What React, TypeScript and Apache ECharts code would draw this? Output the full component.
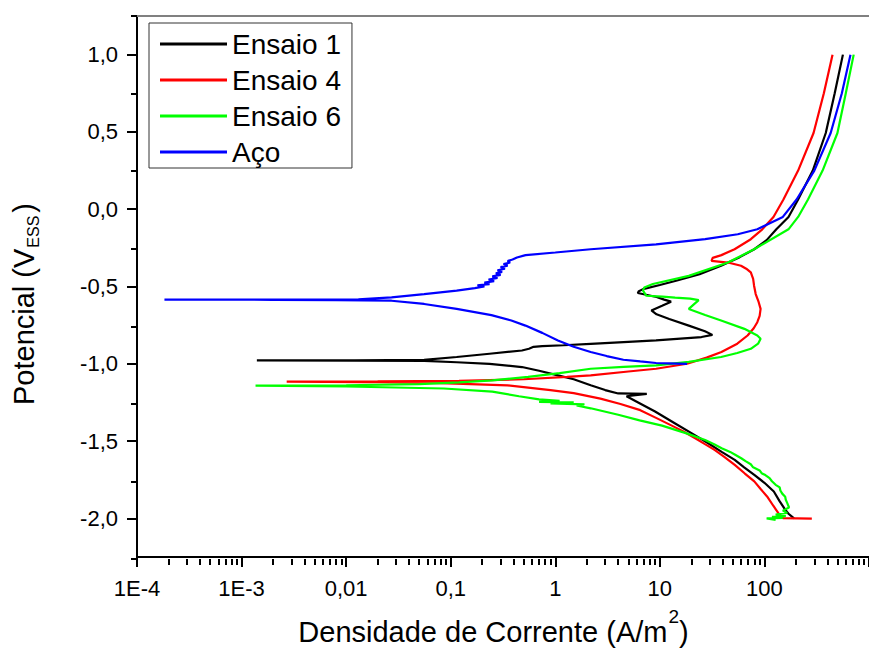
import React, { useEffect, useRef } from 'react';
import * as echarts from 'echarts';

const FONT = '"Liberation Sans", Arial, Helvetica, sans-serif';

// Polarization scans: [potential (V vs ESS), current density (A/m²)], in scan order
const ensaio1: [number, number][] = [
  [-2.0, 192], [-1.97, 170], [-1.944, 158], [-1.89, 140], [-1.826, 123], [-1.77, 100],
  [-1.719, 80], [-1.67, 64], [-1.622, 52], [-1.57, 39], [-1.514, 29], [-1.457, 21],
  [-1.386, 14], [-1.309, 9], [-1.25, 6.2], [-1.21, 4.8], [-1.195, 7.5], [-1.192, 4.0],
  [-1.17, 3.0], [-1.139, 2.18], [-1.1, 1.5], [-1.075, 1.06], [-1.045, 0.7], [-1.021, 0.48],
  [-1.0, 0.235], [-0.99, 0.114], [-0.981, 0.0557], [-0.979, 0.012], [-0.978, 0.0014],
  [-0.977, 0.012], [-0.975, 0.0557], [-0.956, 0.114], [-0.935, 0.235], [-0.914, 0.48],
  [-0.903, 0.56], [-0.89, 0.62], [-0.886, 0.75], [-0.88, 1.2], [-0.871, 2.18], [-0.86, 4.5],
  [-0.849, 9.2], [-0.835, 17], [-0.827, 25], [-0.813, 31.8], [-0.79, 27], [-0.753, 18.9],
  [-0.71, 12.3], [-0.68, 9.3], [-0.655, 8.3], [-0.625, 10.5], [-0.598, 12.8], [-0.585, 11],
  [-0.568, 9.3], [-0.552, 7.2], [-0.542, 6.15], [-0.53, 6.3], [-0.517, 6.9], [-0.49, 10],
  [-0.463, 14.3], [-0.42, 24], [-0.366, 38.5], [-0.31, 58], [-0.259, 80], [-0.2, 105],
  [-0.13, 130], [-0.05, 170], [0.063, 210], [0.25, 290], [0.493, 386], [0.75, 470], [1.0, 563],
];

const ensaio4: [number, number][] = [
  [-2.002, 284], [-1.998, 150], [-1.97, 137], [-1.92, 122], [-1.858, 106], [-1.81, 92],
  [-1.761, 80], [-1.71, 65], [-1.654, 52], [-1.6, 41], [-1.558, 33.6], [-1.52, 27],
  [-1.482, 21.8], [-1.44, 17], [-1.4, 13], [-1.35, 9.2], [-1.3, 6.5], [-1.26, 4.2],
  [-1.225, 2.7], [-1.19, 1.5], [-1.17, 0.9], [-1.14, 0.35], [-1.125, 0.08], [-1.118, 0.015],
  [-1.115, 0.0027], [-1.113, 0.02], [-1.11, 0.12], [-1.1, 0.5], [-1.085, 1.3], [-1.075, 2.18],
  [-1.05, 5], [-1.032, 9.2], [-1.0, 18.2], [-0.96, 28], [-0.924, 38.8], [-0.87, 55],
  [-0.817, 69], [-0.77, 79], [-0.731, 85.5], [-0.69, 90], [-0.645, 91.9], [-0.6, 88],
  [-0.549, 82.5], [-0.495, 79.6], [-0.45, 78], [-0.409, 74.1], [-0.385, 67], [-0.366, 59.7],
  [-0.345, 44.8], [-0.334, 31.2], [-0.315, 32], [-0.297, 38.8], [-0.259, 51.8], [-0.194, 74.1],
  [-0.13, 95.4], [-0.05, 122], [0.063, 152], [0.25, 210], [0.493, 295], [0.75, 370], [1.0, 448],
];

const ensaio6: [number, number][] = [
  [-2.01, 128], [-2.0, 105], [-1.997, 150], [-1.99, 118], [-1.985, 160], [-1.975, 128],
  [-1.965, 165], [-1.95, 150], [-1.93, 172], [-1.9, 165], [-1.88, 160], [-1.86, 158],
  [-1.84, 148], [-1.82, 142], [-1.8, 140], [-1.783, 128], [-1.76, 118], [-1.74, 112],
  [-1.72, 102], [-1.708, 94], [-1.69, 90], [-1.67, 78], [-1.65, 74], [-1.63, 66],
  [-1.611, 60], [-1.59, 53], [-1.57, 47], [-1.547, 39], [-1.52, 33], [-1.493, 27.1],
  [-1.45, 18], [-1.4, 10.5], [-1.366, 6.4], [-1.33, 4], [-1.288, 2.18], [-1.27, 1.6],
  [-1.262, 1.9], [-1.256, 0.9], [-1.25, 1.5], [-1.246, 0.7], [-1.24, 1.1], [-1.23, 0.7],
  [-1.21, 0.45], [-1.18, 0.25], [-1.16, 0.086], [-1.147, 0.01], [-1.141, 0.00136],
  [-1.139, 0.01], [-1.132, 0.05], [-1.12, 0.12], [-1.107, 0.25], [-1.085, 0.55], [-1.06, 1.1],
  [-1.032, 2.18], [-1.02, 4.5], [-1.01, 9.2], [-0.988, 18.9], [-0.956, 38.5], [-0.93, 55],
  [-0.903, 74.1], [-0.87, 87], [-0.838, 91.9], [-0.817, 85.5], [-0.774, 64.3], [-0.72, 38.5],
  [-0.684, 27.1], [-0.645, 18.9], [-0.588, 23.5], [-0.578, 19.5], [-0.572, 14], [-0.566, 10.6],
  [-0.56, 7.43], [-0.527, 6.9], [-0.506, 7.1], [-0.484, 8.57], [-0.431, 18.9], [-0.345, 44.8],
  [-0.259, 79.6], [-0.13, 169.8], [-0.05, 210], [0.063, 261], [0.25, 360], [0.493, 499],
  [0.75, 600], [1.0, 714],
];

const aco: [number, number][] = [
  [-1.0, 18.2], [-0.997, 12], [-0.995, 9.2], [-0.985, 6.5], [-0.974, 4.48], [-0.95, 3.1],
  [-0.924, 2.18], [-0.89, 1.5], [-0.849, 1.06], [-0.8, 0.75], [-0.753, 0.518], [-0.72, 0.38],
  [-0.685, 0.245], [-0.645, 0.114], [-0.613, 0.0557], [-0.592, 0.0272], [-0.588, 0.008],
  [-0.586, 0.002], [-0.585, 0.000183], [-0.584, 0.002], [-0.583, 0.0131], [-0.57, 0.0272],
  [-0.549, 0.0557], [-0.527, 0.114], [-0.51, 0.17], [-0.5, 0.21], [-0.492, 0.18],
  [-0.485, 0.235], [-0.475, 0.21], [-0.465, 0.26], [-0.455, 0.23], [-0.445, 0.28],
  [-0.435, 0.25], [-0.425, 0.3], [-0.415, 0.27], [-0.405, 0.31], [-0.395, 0.28],
  [-0.385, 0.33], [-0.375, 0.3], [-0.365, 0.35], [-0.355, 0.32], [-0.345, 0.37],
  [-0.335, 0.35], [-0.325, 0.39], [-0.312, 0.43], [-0.297, 0.52], [-0.28, 1.0],
  [-0.259, 2.18], [-0.227, 9.2], [-0.194, 27.1], [-0.162, 55.6], [-0.13, 85.5], [-0.05, 150],
  [0.063, 203], [0.25, 300], [0.493, 430], [0.75, 550], [1.0, 665],
];

const seriesNames = ['Ensaio 1', 'Ensaio 4', 'Ensaio 6', 'Aço'];
const seriesColors = ['#000000', '#ff0000', '#00ff00', '#0000ff'];
const seriesData = [ensaio1, ensaio4, ensaio6, aco];

// Axis ticks and labels
const currentMajorTicks = [1e-4, 1e-3, 1e-2, 1e-1, 1, 10, 100, 1000];
const currentLabelValues = [1e-4, 1e-3, 1e-2, 1e-1, 1, 10, 100];
const currentDecades = [1e-4, 1e-3, 1e-2, 1e-1, 1, 10, 100];
const currentMinorSteps = [2, 3, 4, 5, 6, 7, 8, 9];
const potentialMajorTicks = [-2, -1.5, -1, -0.5, 0, 0.5, 1];
const potentialMinorTicks = [-2.25, -1.75, -1.25, -0.75, -0.25, 0.25, 0.75, 1.25];

const currentMinorTicks = currentDecades.flatMap((d) =>
  currentMinorSteps.map((m) => Number((m * d).toPrecision(6)))
);

const formatCurrent = (v: number) => {
  const n = Number(v.toPrecision(6));
  if (n < 0.005) return '1E' + Math.round(Math.log10(n));
  return String(n).replace('.', ',');
};
const formatPotential = (v: number) => v.toFixed(1).replace('.', ',');

const X_MIN = 1e-4;
const X_MAX = 1000;
const Y_MIN = -2.25;
const Y_MAX = 1.25;

export default function App() {
  const ref = useRef<HTMLDivElement>(null);

  useEffect(() => {
    if (!ref.current) return;
    const chart = echarts.init(ref.current, undefined, { renderer: 'svg' });

    const gridBox = { left: 137, right: -15, top: 16, bottom: 92 };

    const option: any = {
      animation: false,
      backgroundColor: '#ffffff',
      textStyle: { fontFamily: FONT },
      grid: [{ ...gridBox }, { ...gridBox }],
      legend: {
        orient: 'vertical',
        left: 149,
        top: 23,
        padding: [6, 11, 1, 11],
        itemGap: 6,
        itemWidth: 67,
        itemHeight: 3,
        icon: 'rect',
        borderColor: '#333333',
        borderWidth: 1,
        backgroundColor: '#ffffff',
        selectedMode: false,
        textStyle: { fontSize: 28, lineHeight: 30, color: '#000', fontFamily: FONT },
        data: seriesNames,
      },
      xAxis: [
        {
          type: 'log',
          logBase: 10,
          gridIndex: 0,
          min: X_MIN,
          max: X_MAX,
          position: 'bottom',
          axisLine: { show: true, onZero: false, lineStyle: { color: '#000', width: 2 } },
          axisTick: {
            show: true,
            inside: false,
            length: 10,
            lineStyle: { color: '#000', width: 2 },
            customValues: currentMajorTicks,
          },
          axisLabel: {
            show: true,
            customValues: currentLabelValues,
            formatter: formatCurrent,
            fontSize: 22,
            color: '#000',
            margin: 20,
            fontFamily: FONT,
          },
          minorTick: { show: false },
          splitLine: { show: false },
          name: '{t|Densidade de Corrente (A/m}{s|2}{t|)}',
          nameLocation: 'middle',
          nameGap: 50,
          nameTextStyle: {
            fontFamily: FONT,
            color: '#000',
            padding: [0, 19, 0, 0],
            rich: {
              t: { fontSize: 29, lineHeight: 29, verticalAlign: 'bottom', fontFamily: FONT, color: '#000' },
              s: { fontSize: 19, verticalAlign: 'top', padding: [0, 0, 20, 1], fontFamily: FONT, color: '#000' },
            },
          },
        },
        {
          type: 'log',
          logBase: 10,
          gridIndex: 0,
          min: X_MIN,
          max: X_MAX,
          position: 'top',
          axisLine: { show: true, onZero: false, lineStyle: { color: '#808080', width: 2 } },
          axisTick: { show: false },
          axisLabel: { show: false },
          splitLine: { show: false },
        },
        {
          type: 'log',
          logBase: 10,
          gridIndex: 1,
          min: X_MIN,
          max: X_MAX,
          position: 'bottom',
          axisLine: { show: false, onZero: false },
          axisTick: {
            show: true,
            inside: false,
            length: 6,
            lineStyle: { color: '#000', width: 2 },
            customValues: currentMinorTicks,
          },
          axisLabel: { show: false },
          splitLine: { show: false },
        },
      ],
      yAxis: [
        {
          type: 'value',
          gridIndex: 0,
          min: Y_MIN,
          max: Y_MAX,
          position: 'left',
          axisLine: { show: true, onZero: false, lineStyle: { color: '#000', width: 2 } },
          axisTick: {
            show: true,
            inside: false,
            length: 10,
            lineStyle: { color: '#000', width: 2 },
            customValues: potentialMajorTicks,
          },
          axisLabel: {
            show: true,
            customValues: potentialMajorTicks,
            formatter: formatPotential,
            fontSize: 22,
            color: '#000',
            margin: 19,
            fontFamily: FONT,
          },
          splitLine: { show: false },
          name: '{t|Potencial (V}{s|ESS}{t|)}',
          nameLocation: 'middle',
          nameGap: 96,
          nameTextStyle: {
            fontFamily: FONT,
            color: '#000',
            padding: [0, 35, 0, 0],
            rich: {
              t: { fontSize: 29, lineHeight: 29, verticalAlign: 'top', fontFamily: FONT, color: '#000' },
              s: { fontSize: 16, verticalAlign: 'bottom', padding: [16, 3, 0, 1], fontFamily: FONT, color: '#000' },
            },
          },
        },
        {
          type: 'value',
          gridIndex: 1,
          min: Y_MIN,
          max: Y_MAX,
          position: 'left',
          axisLine: { show: false, onZero: false },
          axisTick: {
            show: true,
            inside: false,
            length: 6,
            lineStyle: { color: '#000', width: 2 },
            customValues: potentialMinorTicks,
          },
          axisLabel: { show: false },
          splitLine: { show: false },
        },
      ],
      series: seriesData.map((rows, k) => ({
        type: 'line',
        name: seriesNames[k],
        xAxisIndex: 0,
        yAxisIndex: 0,
        data: rows.map(([potential, current]) => [current, potential]),
        showSymbol: false,
        symbol: 'none',
        clip: true,
        z: 2 + k,
        lineStyle: { color: seriesColors[k], width: 2.2 },
        itemStyle: { color: seriesColors[k] },
      })),
    };

    chart.setOption(option);
    return () => chart.dispose();
  }, []);

  return (
    <div
      ref={ref}
      style={{ position: 'absolute', left: 0, top: 0, width: 869, height: 651 }}
    />
  );
}
